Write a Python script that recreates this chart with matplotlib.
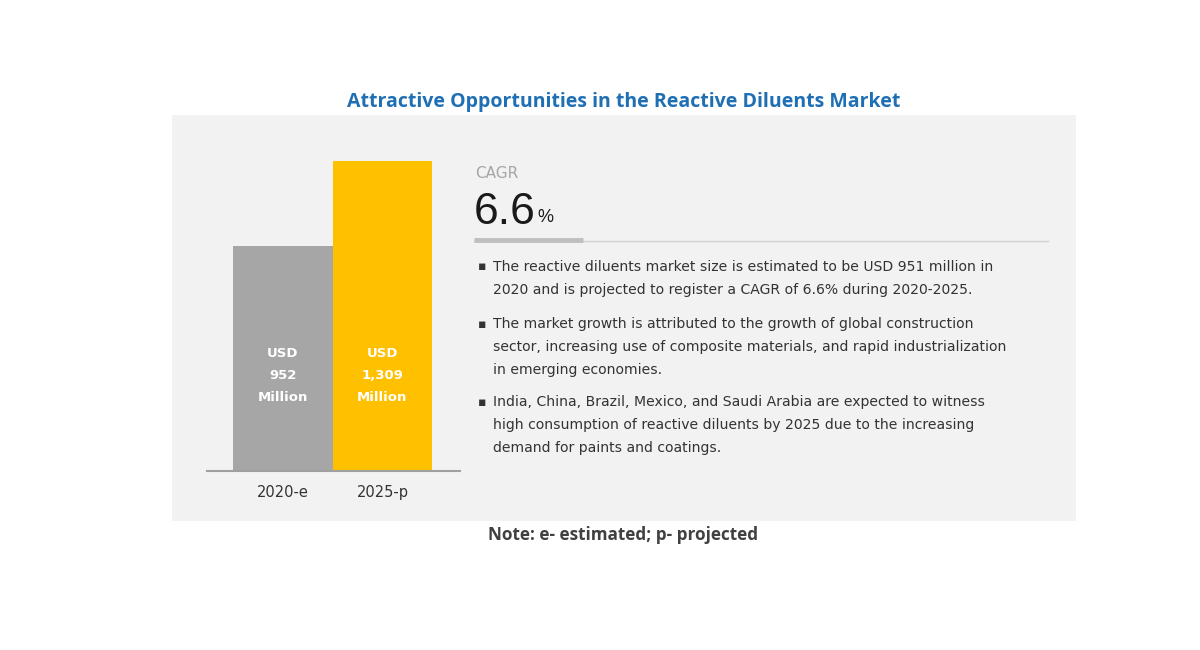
import matplotlib
matplotlib.use('Agg')
from matplotlib import pyplot as plt
from matplotlib.patches import Rectangle

# data
years = ["2020-e", "2025-p"]
market_size = [952, 1309]
bar_labels = ["USD\n952\nMillion", "USD\n1,309\nMillion"]
bar_colors = ["#a6a6a6", "#ffc000"]
cagr = "6.6"
bullets = [
    "The reactive diluents market size is estimated to be USD 951 million in\n"
    "2020 and is projected to register a CAGR of 6.6% during 2020-2025.",
    "The market growth is attributed to the growth of global construction\n"
    "sector, increasing use of composite materials, and rapid industrialization\n"
    "in emerging economies.",
    "India, China, Brazil, Mexico, and Saudi Arabia are expected to witness\n"
    "high consumption of reactive diluents by 2025 due to the increasing\n"
    "demand for paints and coatings.",
]
title = "Attractive Opportunities in the Reactive Diluents Market"
note = "Note: e- estimated; p- projected"

W, H = 1200, 650
fig = plt.figure(figsize=(W / 100, H / 100), dpi=100)
fig.patch.set_facecolor("white")


def fx(px):
    return px / W


def fy(py):
    return 1 - py / H


# grey panel
fig.patches.append(Rectangle((fx(172), fy(521)), fx(1076) - fx(172), fy(115) - fy(521),
                             transform=fig.transFigure, facecolor="#f2f2f2",
                             edgecolor="none", zorder=-5))

# bar chart
ax = fig.add_axes([fx(207), fy(471), fx(460) - fx(207), fy(161) - fy(471)])
ax.set_zorder(2)
ax.set_facecolor("none")
x = [0, 1]
ax.bar(x, market_size, width=1.0, color=bar_colors, edgecolor="none")
ax.set_xlim(-0.764, 1.78)
ax.set_ylim(0, max(market_size))
for s in ["top", "right", "left"]:
    ax.spines[s].set_visible(False)
ax.spines["bottom"].set_color("#a0a0a0")
ax.spines["bottom"].set_linewidth(1.5)
ax.set_yticks([])
ax.set_xticks(x)
ax.set_xticklabels(years, fontsize=10.5, color="#333333", family="DejaVu Sans")
ax.tick_params(axis="x", length=0, pad=10)
for xi, lab in zip(x, bar_labels):
    ax.text(xi, 952 * 0.425, lab, ha="center", va="center", color="white",
            fontsize=9.5, fontweight="bold", linespacing=1.9, family="DejaVu Sans")

# CAGR block
fig.text(fx(475), fy(173), "CAGR", fontsize=11, color="#a6a6a6",
         va="center", ha="left", family="DejaVu Sans")
t = fig.text(fx(474), fy(212), cagr, fontsize=32, color="#1a1a1a",
             va="center", ha="left", family="Liberation Sans")
r = fig.canvas.get_renderer()
bb = t.get_window_extent(renderer=r)
fig.text(bb.x1 / W + 0.001, fy(218), "%", fontsize=13, color="#1a1a1a",
         va="center", ha="left", family="Liberation Sans")
fig.add_artist(plt.Line2D([fx(474), fx(1048)], [fy(241), fy(241)],
                          transform=fig.transFigure, color="#d0d0d0", lw=1))
fig.add_artist(plt.Line2D([fx(474), fx(583)], [fy(240), fy(240)],
                          transform=fig.transFigure, color="#bfbfbf", lw=3.5,
                          solid_capstyle="butt"))

# bullets
starts = [267, 324, 402]
for b, y0 in zip(bullets, starts):
    fig.text(fx(478), fy(y0), "\u25aa", fontsize=9, color="#333333",
             va="center", ha="left", family="DejaVu Sans")
    fig.text(fx(493), fy(y0) + 0.0115, b, fontsize=10.1, color="#333333",
             va="top", ha="left", linespacing=1.85, family="DejaVu Sans")

fig.text(fx(624), fy(102), title, fontsize=14, fontweight="bold",
         color="#1f6fb4", ha="center", va="center", family="Open Sans")
fig.text(fx(488), fy(535), note, fontsize=12.3, fontweight="bold",
         color="#404040", ha="left", va="center", family="Open Sans")

fig.savefig("out.png", dpi=100)
